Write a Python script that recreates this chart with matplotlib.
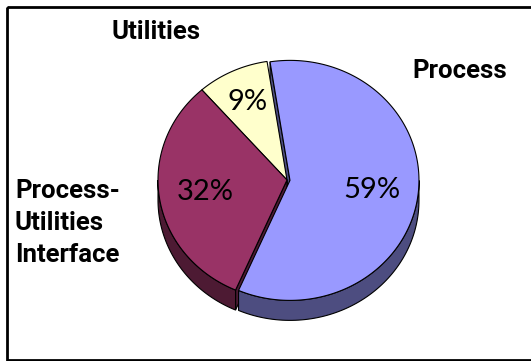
import numpy as np
import matplotlib.pyplot as plt
from matplotlib.patches import Polygon, Rectangle

# data
labels = ['Process', 'Utilities', 'Process-\nUtilities\nInterface']
shares = [59, 9, 32]
pct_labels = ['59%', '9%', '32%']

top_colors = ['#9999FF', '#FFFFCC', '#993366']
side_colors = ['#4D4D80', '#80805C', '#4D1A33']
explode_px = [3, 0, 0]
pct_dist = [0.64, 0.72, 0.64]

# pie geometry in pixel units (y grows downwards)
cx, cy = 287, 180
rx, ry = 129, 120
depth = 20
start_angle = -113.5

fig = plt.figure(figsize=(5.31, 3.61), dpi=100)
ax = fig.add_axes([0, 0, 1, 1])
ax.set_xlim(0, 531)
ax.set_ylim(361, 0)
ax.axis('off')


def rim(t, off, dz=0.0):
    r = np.radians(t)
    return np.column_stack([off[0] + cx + rx * np.cos(r),
                            off[1] + cy - ry * np.sin(r) + dz])


total = float(sum(shares))
bounds = start_angle + 360 * np.concatenate([[0], np.cumsum(shares)]) / total
slices = []
for i in range(len(shares)):
    a0, a1 = bounds[i], bounds[i + 1]
    mid = np.radians((a0 + a1) / 2)
    off = (explode_px[i] * np.cos(mid), -explode_px[i] * np.sin(mid))
    slices.append((a0, a1, off))

lw = 0.8

# cut faces that look towards the viewer
for i, (a0, a1, off) in enumerate(slices):
    for a, normal in ((a0, a0 - 90), (a1, a1 + 90)):
        if np.sin(np.radians(normal)) < 0:
            c = np.array([[cx + off[0], cy + off[1]]])
            e = rim(np.array([a]), off)
            pts = np.vstack([c, e, e + [0, depth], c + [0, depth]])
            ax.add_patch(Polygon(pts, closed=True, facecolor=side_colors[i],
                                 edgecolor='black', lw=lw, zorder=1))

# outer walls on the front half
for i, (a0, a1, off) in enumerate(slices):
    for k in range(-1, 3):
        lo = max(a0, 180 + 360 * k)
        hi = min(a1, 360 + 360 * k)
        if hi <= lo:
            continue
        t = np.linspace(lo, hi, 80)
        upper = rim(t, off)
        lower = rim(t[::-1], off, depth)
        ax.add_patch(Polygon(np.vstack([upper, lower]), closed=True,
                             facecolor=side_colors[i], edgecolor='black',
                             lw=lw, zorder=2))

# top faces
for i, (a0, a1, off) in enumerate(slices):
    t = np.linspace(a0, a1, 200)
    c = np.array([[cx + off[0], cy + off[1]]])
    ax.add_patch(Polygon(np.vstack([c, rim(t, off)]), closed=True,
                         facecolor=top_colors[i], edgecolor='black',
                         lw=lw, zorder=3))
    mid = np.radians((a0 + a1) / 2)
    ax.text(c[0, 0] + pct_dist[i] * rx * np.cos(mid),
            c[0, 1] - pct_dist[i] * ry * np.sin(mid),
            pct_labels[i], ha='center', va='center', fontsize=21,
            family=['Lato', 'DejaVu Sans'], color='black', zorder=4)

# category labels
lab_font = dict(fontsize=18.5, fontweight='bold',
                family=['Roboto', 'DejaVu Sans'], zorder=4)
ax.text(460, 71, labels[0], ha='center', va='center', **lab_font)
ax.text(156, 32, labels[1], ha='center', va='center', **lab_font)
ax.text(15, 223, labels[2], ha='left', va='center', linespacing=1.4,
        **lab_font)

# frame, right side runs off the picture
ax.add_patch(Rectangle((7, 7), 540, 352.5, fill=False, edgecolor='black',
                       lw=2, zorder=5, clip_on=False))

plt.savefig('out.png', dpi=100)
